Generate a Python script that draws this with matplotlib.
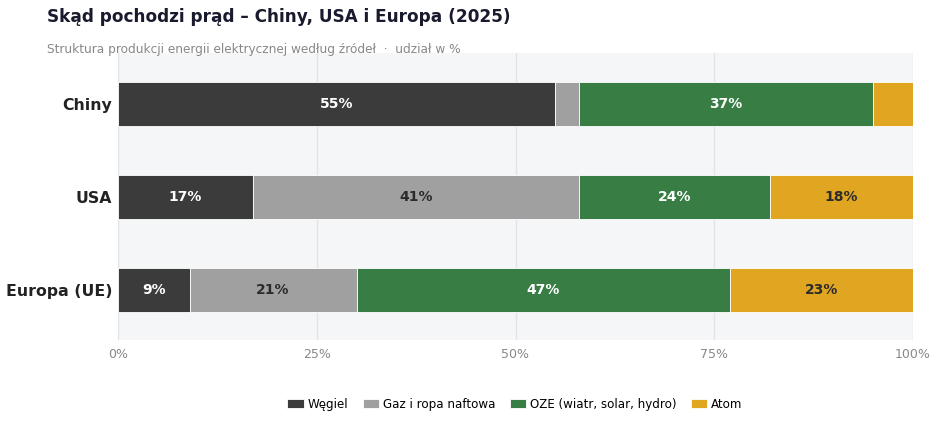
import matplotlib.pyplot as plt
import numpy as np

plt.rcParams['font.family'] = ['DejaVu Sans']

# Data
regions = ['Chiny', 'USA', 'Europa (UE)']
sources = ['Węgiel', 'Gaz i ropa naftowa', 'OZE (wiatr, solar, hydro)', 'Atom']
coal = [55, 17, 9]
gas = [3, 41, 21]
renewables = [37, 24, 47]
nuclear = [5, 18, 23]

colors = ['#3b3b3b', '#a0a0a0', '#387d44', '#e0a622']
text_colors = ['white', '#2b2b2b', 'white', '#2b2b2b']

fig = plt.figure(figsize=(9.39, 4.23), dpi=100)
ax = fig.add_axes([118 / 939, 1 - 340 / 423, 795 / 939, 287 / 423])
ax.set_facecolor('#f5f6f8')

y = np.arange(len(regions))
left = np.zeros(len(regions))
for vals, name, col, tcol in zip([coal, gas, renewables, nuclear], sources, colors, text_colors):
    vals = np.array(vals, dtype=float)
    ax.barh(y, vals, left=left, height=0.48, color=col, label=name,
            edgecolor='white', linewidth=0.6, zorder=3)
    for yi, l, v in zip(y, left, vals):
        if v >= 8:
            ax.text(l + v / 2, yi, f'{v:.0f}%', ha='center', va='center',
                    color=tcol, fontsize=10, fontweight='bold', zorder=4)
    left += vals

ax.set_xlim(0, 100)
ax.set_ylim(2.54, -0.55)
ax.set_xticks([0, 25, 50, 75, 100])
ax.set_xticklabels(['0%', '25%', '50%', '75%', '100%'])
ax.set_yticks(y)
ax.set_yticklabels(regions, fontsize=11.3, fontweight='bold', color='#222222')
ax.tick_params(axis='x', colors='#888888', labelsize=9, length=0, pad=6)
ax.tick_params(axis='y', length=0, pad=4)
ax.grid(True, axis='x', color='#e2e3e6', linewidth=1, zorder=0)
for s in ax.spines.values():
    s.set_visible(False)

fig.text(47 / 939, 1 - 17 / 423, 'Skąd pochodzi prąd – Chiny, USA i Europa (2025)',
         fontsize=12.2, fontweight='bold', color='#1a1a2e', va='center')
fig.text(47 / 939, 1 - 50 / 423,
         'Struktura produkcji energii elektrycznej według źródeł  ·  udział w %',
         fontsize=8.7, color='#888888', va='center')

ax.legend(loc='center', bbox_to_anchor=(515 / 939, 1 - 404 / 423), bbox_transform=fig.transFigure,
          ncol=4, frameon=False, fontsize=8.6, handlelength=1.35, handleheight=0.85,
          columnspacing=1.2, handletextpad=0.35)

fig.savefig('out.png', dpi=100)
